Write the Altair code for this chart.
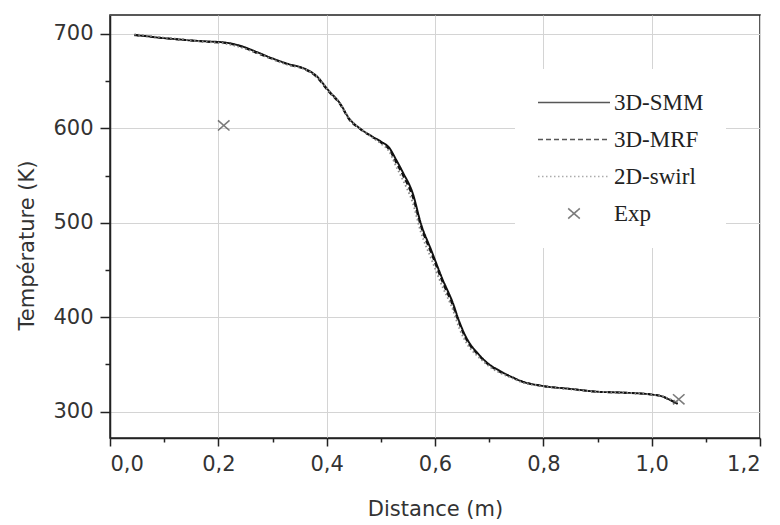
import altair as alt
import pandas as pd

# ---- data ----
distance = [0.045, 0.06, 0.09, 0.12, 0.15, 0.18, 0.21, 0.24, 0.27, 0.30, 0.33, 0.36, 0.38,
            0.405, 0.424, 0.442, 0.461, 0.485, 0.50, 0.516, 0.528, 0.541, 0.559, 0.574, 0.593,
            0.614, 0.633, 0.645, 0.66, 0.68, 0.70, 0.72, 0.74, 0.76, 0.80, 0.85, 0.90, 0.95,
            1.00, 1.02, 1.035, 1.048]
smm = [698.5, 698, 696, 694.5, 693, 692, 691, 687.5, 681, 674, 668, 663, 656, 639, 627, 610,
       600, 591, 586, 579, 567, 553, 531, 499, 471, 440, 415, 395, 376, 361, 350, 343, 337,
       332, 327, 324, 321, 320, 318, 316, 312, 308]
mrf = [699, 698, 696, 694.5, 693, 691.5, 690.5, 687, 680, 673.5, 667.5, 662.5, 655, 638, 626,
       609, 599.5, 590.5, 585, 577, 564, 550, 527, 496, 468, 437, 412, 393, 374, 360, 349, 342,
       337, 332, 327, 324, 321, 320, 318, 316, 312, 309]
swirl = [699.5, 698.5, 696.5, 695, 693, 691.5, 690, 686, 680, 673, 667, 662.5, 656, 639, 627,
         610, 600, 590, 584, 575, 560, 545, 521, 490, 462, 432, 408, 388, 371, 358, 348, 341,
         336, 331, 327, 323.5, 321, 320, 318, 316, 313, 310]
exp_x = [0.21, 1.05]
exp_y = [603, 313]

series_names = ["3D-SMM", "3D-MRF", "2D-swirl", "Exp"]
series_colors = ["#111111", "#111111", "#8a8a8a", "#444444"]
series_dashes = [[1, 0], [5, 3], [1.5, 2.5], [1, 0]]
line_path = "M-1,0L1,0"
x_path = "M-0.16,-0.14L0.16,0.14M-0.16,0.14L0.16,-0.14"
series_shapes = [line_path, line_path, line_path, x_path]

x_ticks = [round(i * 0.1, 1) for i in range(13)]
y_ticks = list(range(300, 701, 50))

rows = []
for name, vals in zip(series_names[:3], [smm, mrf, swirl]):
    for d, t in zip(distance, vals):
        rows.append({"Distance": d, "Temp": t, "series": name})
lines_df = pd.DataFrame(rows)
exp_df = pd.DataFrame({"Distance": exp_x, "Temp": exp_y, "series": ["Exp"] * len(exp_x)})

axis_font = "DejaVu Sans"

x_enc = alt.X(
    "Distance:Q",
    scale=alt.Scale(domain=[0, 1.2], nice=False, zero=False),
    axis=alt.Axis(
        title="Distance (m)",
        values=x_ticks,
        labelExpr="round(datum.value*10) % 2 == 1 ? '' : replace(format(datum.value, '.1f'), '.', ',')",
        tickSize={"condition": {"test": "round(datum.value*10) % 2 == 1", "value": 4}, "value": 8},
        gridOpacity={"condition": {"test": "round(datum.value*10) % 2 == 1", "value": 0}, "value": 1},
        labelPadding=7,
        titleY=71,
        titleBaseline="middle",
    ),
)
y_enc = alt.Y(
    "Temp:Q",
    scale=alt.Scale(domain=[272, 720], nice=False, zero=False),
    axis=alt.Axis(
        title="Température (K)",
        values=y_ticks,
        labelExpr="datum.value % 100 != 0 ? '' : format(datum.value, 'd')",
        tickSize={"condition": {"test": "datum.value % 100 != 0", "value": 5}, "value": 10},
        gridOpacity={"condition": {"test": "datum.value % 100 != 0", "value": 0}, "value": 1},
        labelPadding=7,
        titleX=-83,
        titleY=230,
        titleAngle=270,
        titleAlign="center",
        titleBaseline="middle",
    ),
)

legend = alt.Legend(
    title=None,
    orient="none",
    legendX=405,
    legendY=54,
    padding=22,
    fillColor="white",
    labelFont="Liberation Serif",
    labelFontSize=23,
    labelColor="#222222",
    labelOffset=3,
    clipHeight=23,
    rowPadding=13,
    symbolSize=5184,
    symbolStrokeWidth=1.6,
    symbolFillColor="transparent",
)

color_enc = alt.Color("series:N", scale=alt.Scale(domain=series_names, range=series_colors), legend=legend)

lines = alt.Chart(lines_df).mark_line(strokeWidth=1.9, interpolate="monotone").encode(
    x=x_enc,
    y=y_enc,
    color=color_enc,
    strokeDash=alt.StrokeDash("series:N", scale=alt.Scale(domain=series_names, range=series_dashes), legend=legend),
    detail="series:N",
    order=alt.Order("Distance:Q"),
)

points = alt.Chart(exp_df).mark_point(filled=False, size=5184, strokeWidth=1.6).encode(
    x=x_enc,
    y=y_enc,
    color=color_enc,
    shape=alt.Shape("series:N", scale=alt.Scale(domain=series_names, range=series_shapes), legend=legend),
)

chart = alt.layer(lines, points).properties(
    width=650,
    height=423,
    autosize=alt.AutoSizeParams(type="none"),
    padding={"left": 110, "top": 15, "right": 20, "bottom": 87},
    background="white",
).configure_view(
    stroke="#222222", strokeWidth=1.5
).configure_axis(
    labelFont=axis_font,
    labelFontSize=21,
    labelColor="#333333",
    titleFont=axis_font,
    titleFontSize=21,
    titleFontWeight="normal",
    titleColor="#333333",
    domainColor="#222222",
    domainWidth=1.5,
    tickColor="#222222",
    tickWidth=1.5,
    gridColor="#d4d4d4",
    gridWidth=1,
)

chart.save("out.html", embed_options={"renderer": "svg", "actions": False})
